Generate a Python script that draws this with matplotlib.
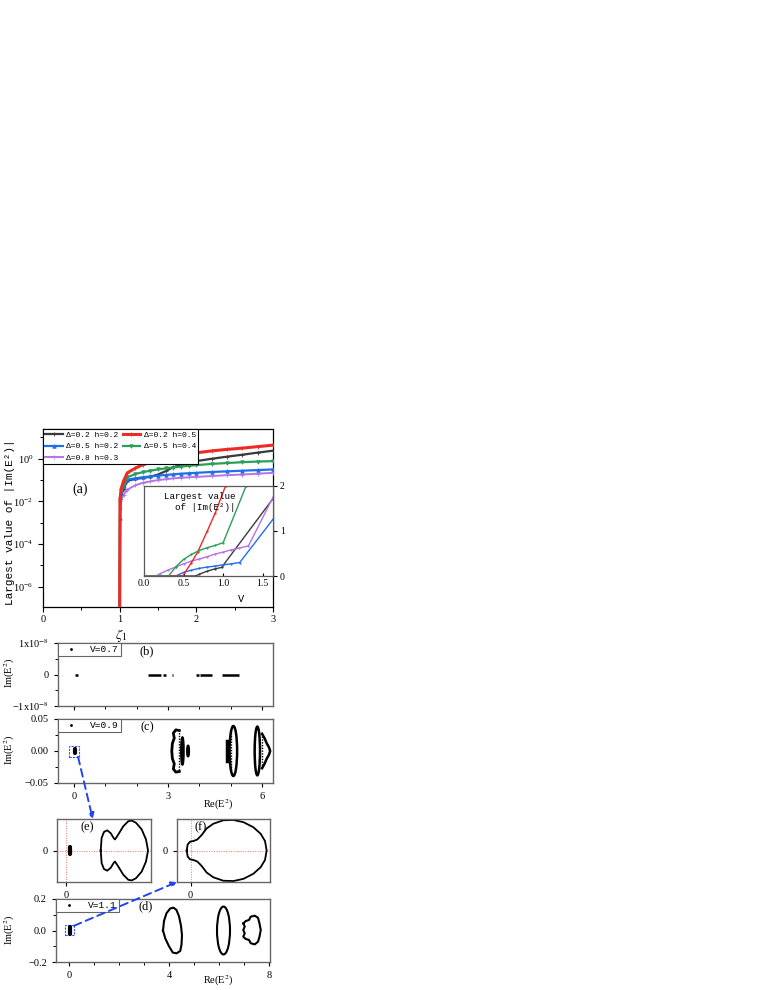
import numpy as np
import matplotlib
matplotlib.use('Agg')
import matplotlib.pyplot as plt
from matplotlib.patches import Ellipse, Rectangle, ConnectionPatch
from matplotlib.ticker import MultipleLocator, FixedLocator, NullFormatter

plt.rcParams['font.family'] = ['Liberation Serif', 'DejaVu Sans']
plt.rcParams['mathtext.fontset'] = 'stix'
plt.rcParams['xtick.direction'] = 'out'
plt.rcParams['ytick.direction'] = 'out'
plt.rcParams['xtick.labelsize'] = 7.5
plt.rcParams['ytick.labelsize'] = 7.5

MONO = ['Liberation Mono', 'DejaVu Sans Mono']

# ---------------------------------------------------------
# (a) largest |Im(E^2)| vs zeta_1  (log10 values)
# ---------------------------------------------------------
zeta = [1.0, 1.005, 1.02, 1.05, 1.1, 1.2, 1.3, 1.4, 1.5, 1.6, 1.7, 1.8, 1.9, 2.0, 2.2, 2.4, 2.6, 2.8, 3.0]
log_black = [-8, -2.0, -1.7, -1.43, -1.03, -0.95, -0.90, -0.84, -0.74, -0.58, -0.39, -0.30, -0.20, -0.11, 0.0, 0.10, 0.19, 0.29, 0.38]
log_red = [-8, -1.9, -1.4, -1.05, -0.66, -0.45, -0.28, -0.16, -0.07, 0.03, 0.12, 0.18, 0.23, 0.28, 0.37, 0.44, 0.50, 0.57, 0.64]
log_blue = [-8, -2.8, -1.6, -1.3, -0.98, -0.92, -0.87, -0.83, -0.79, -0.76, -0.73, -0.70, -0.68, -0.66, -0.62, -0.59, -0.56, -0.53, -0.50]
log_green = [-8, -1.9, -1.5, -1.2, -0.87, -0.72, -0.63, -0.56, -0.50, -0.45, -0.41, -0.37, -0.33, -0.30, -0.24, -0.20, -0.16, -0.13, -0.11]
log_purple = [-8, -2.3, -1.9, -1.7, -1.45, -1.25, -1.13, -1.06, -1.0, -0.96, -0.92, -0.89, -0.87, -0.85, -0.81, -0.77, -0.74, -0.70, -0.66]
labels_a = ['Δ=0.2 h=0.2', 'Δ=0.5 h=0.2', 'Δ=0.8 h=0.3', 'Δ=0.2 h=0.5', 'Δ=0.5 h=0.4']

# inset: largest |Im(E^2)| vs V
v_black = [0.0, 0.65, 0.70, 0.80, 0.90, 0.98, 1.63]
y_black = [0.0, 0.0, 0.04, 0.11, 0.16, 0.19, 1.72]
v_red = [0.0, 0.49, 0.60, 0.68, 0.80, 0.90, 1.03]
y_red = [0.0, 0.0, 0.30, 0.54, 1.00, 1.40, 2.00]
v_blue = [0.0, 0.40, 0.50, 0.60, 0.70, 0.80, 0.90, 1.00, 1.10, 1.21, 1.63]
y_blue = [0.0, 0.0, 0.08, 0.13, 0.17, 0.20, 0.22, 0.25, 0.27, 0.30, 1.26]
v_green = [0.0, 0.31, 0.40, 0.50, 0.60, 0.70, 0.80, 0.90, 1.00, 1.29]
y_green = [0.0, 0.0, 0.20, 0.37, 0.48, 0.57, 0.63, 0.68, 0.74, 2.00]
v_purple = [0.0, 0.15, 0.20, 0.30, 0.40, 0.50, 0.60, 0.70, 0.80, 0.90, 1.00, 1.10, 1.20, 1.32, 1.63]
y_purple = [0.0, 0.0, 0.05, 0.13, 0.20, 0.27, 0.33, 0.38, 0.43, 0.49, 0.53, 0.58, 0.62, 0.67, 1.75]

# (b) V=0.7: spectrum on the real axis (segments)
b_seg_start = [0.02, 2.37, 2.83, 3.12, 3.88, 4.02, 4.72]
b_seg_end = [0.12, 2.78, 2.92, 3.16, 3.98, 4.40, 5.28]

# (c) V=0.9 loops
c_blob_re = 0.02
c_blob_im = [-0.003, 0.003]
c_arc_re = [3.36, 3.25, 3.17, 3.20, 3.14, 3.12, 3.14, 3.20, 3.17, 3.25, 3.36]
c_arc_im = [0.032, 0.033, 0.028, 0.020, 0.012, 0.0, -0.012, -0.020, -0.028, -0.033, -0.032]
c_ell_re = [3.46, 3.64, 5.085, 5.85]
c_ell_hw = [0.035, 0.025, 0.12, 0.085]
c_ell_hh = [0.021, 0.008, 0.039, 0.038]
c_bar_re = [4.87]
c_bar_hh = [0.016]
c_dots_re = [3.36, 5.02, 6.0]
c_dots_hh = [0.030, 0.034, 0.026]
c_tip_re = [6.0, 6.08, 6.15, 6.22, 6.26, 6.22, 6.15, 6.08, 6.0]
c_tip_im = [0.027, 0.020, 0.012, 0.006, 0.0, -0.006, -0.012, -0.020, -0.027]

# (d) V=1.1 loops
d_blob_re = 0.05
d_blob_im = [-0.02, 0.02]
d1_re = [3.76, 3.80, 3.90, 4.05, 4.18, 4.30, 4.40, 4.48, 4.52, 4.50, 4.45, 4.30, 4.15, 4.00, 3.85, 3.76]
d1_im = [0.0, 0.06, 0.11, 0.14, 0.145, 0.13, 0.09, 0.03, -0.03, -0.09, -0.13, -0.145, -0.14, -0.10, -0.05, 0.0]
d2_center = (6.18, 0.0)
d2_hw, d2_hh = 0.26, 0.152
d3_re = [6.97, 7.07, 7.20, 7.27, 7.43, 7.56, 7.62, 7.67, 7.62, 7.56, 7.43, 7.27, 7.20, 7.07, 6.97, 7.03, 6.97, 7.03, 6.97]
d3_im = [0.045, 0.060, 0.067, 0.088, 0.094, 0.081, 0.045, 0.003, -0.039, -0.071, -0.088, -0.081, -0.060, -0.054, -0.039, -0.018, 0.003, 0.025, 0.045]

# (e), (f) zooms: upper halves (spectrum is symmetric about Im=0)
e_re = [0.406, 0.417, 0.445, 0.484, 0.524, 0.563, 0.575, 0.614, 0.673, 0.732, 0.772, 0.823, 0.890, 0.941, 0.965]
e_im = [0.0, 0.40, 0.59, 0.64, 0.55, 0.38, 0.35, 0.51, 0.77, 0.93, 0.95, 0.88, 0.67, 0.35, 0.0]
e_blob_re = 0.04
e_blob_im = [-0.12, 0.12]
f_re = [-0.048, -0.036, -0.006, 0.036, 0.086, 0.140, 0.203, 0.287, 0.413, 0.539, 0.665, 0.790, 0.883, 0.937, 0.958]
f_im = [0.0, 0.19, 0.28, 0.30, 0.35, 0.49, 0.70, 0.85, 0.96, 0.97, 0.90, 0.74, 0.53, 0.30, 0.0]

# ---------------------------------------------------------
# Figure
# ---------------------------------------------------------
W, H = 765, 990
fig = plt.figure(figsize=(W / 100, H / 100), dpi=100)


def px_axes(l, t, r, b):
    return fig.add_axes([l / W, 1 - b / H, (r - l) / W, (b - t) / H])


def frame(ax, color='0.4', lw=1.0):
    for s in ax.spines.values():
        s.set_color(color)
        s.set_linewidth(lw)


ax_a = px_axes(43, 429, 273, 607)
ax_in = px_axes(144, 486, 273, 576)
ax_b = px_axes(58, 643, 273, 706)
ax_c = px_axes(58, 719, 273, 783)
ax_e = px_axes(57, 819, 151, 882)
ax_f = px_axes(177, 819, 270, 882)
ax_d = px_axes(56, 899, 270, 962)

# ---- (a)
colors = ['#3a3a3a', '#1f6fe8', '#b672e8', '#ee2a24', '#2a9e5a']
logs = [log_black, log_blue, log_purple, log_red, log_green]
marks = ['+', '^', '+', '+', 'v']
lws = [1.6, 1.6, 1.4, 2.2, 1.6]
order_z = [3, 4, 3, 5, 4]
for lg, c, m, lw, lab, z in zip(logs, colors, marks, lws, labels_a, order_z):
    ax_a.plot(zeta, 10.0 ** np.array(lg), color=c, lw=lw, marker=m, ms=2.5,
              mew=0.6, label=lab, zorder=z)
ax_a.set_yscale('log')
ax_a.set_xlim(0, 3)
ax_a.set_ylim(1.1e-7, 25)
ax_a.set_xticks([0, 1, 2, 3])
ax_a.xaxis.set_minor_locator(MultipleLocator(0.5))
ax_a.set_yticks([1e-6, 1e-4, 1e-2, 1e0])
ax_a.yaxis.set_minor_locator(FixedLocator([1e-7, 1e-5, 1e-3, 1e-1, 1e1]))
ax_a.yaxis.set_minor_formatter(NullFormatter())
ax_a.tick_params(which='major', length=3.5, width=0.8)
ax_a.tick_params(axis='x', pad=2)
ax_a.tick_params(which='minor', length=2.5, width=0.7)
frame(ax_a, 'black', 0.9)
leg = ax_a.legend(ncol=2, loc='upper left', borderaxespad=0, fancybox=False,
                  edgecolor='black', framealpha=1, prop={'family': MONO, 'size': 5.8},
                  handlelength=2.2, columnspacing=0.5, labelspacing=0.45,
                  borderpad=0.3, handletextpad=0.4)
leg.get_frame().set_linewidth(0.8)
ax_a.text(0.16, 0.66, '(a)', transform=ax_a.transAxes, fontsize=10,
          ha='center', va='center')

# ---- inset
ax_in.set_facecolor('white')
ax_in.set_zorder(6)
for vx, vy, c in zip([v_black, v_blue, v_purple, v_red, v_green],
                     [y_black, y_blue, y_purple, y_red, y_green], colors):
    ax_in.plot(vx, vy, color=c, lw=1.0, marker='.', ms=1.2)
ax_in.set_xlim(0, 1.63)
ax_in.set_ylim(0, 2)
ax_in.set_xticks([0.0, 0.5, 1.0, 1.5])
ax_in.set_xticklabels(['0.0', '0.5', '1.0', '1.5'])
ax_in.set_yticks([0, 1, 2])
ax_in.yaxis.tick_right()
ax_in.tick_params(axis='x', direction='in', length=2, labelsize=7, pad=2)
ax_in.tick_params(axis='y', direction='out', length=3, labelsize=7, pad=2)
frame(ax_in, '0.35', 0.9)
ax_in.text(0.43, 0.93, 'Largest value\n  of |Im(E²)|', transform=ax_in.transAxes,
           fontsize=6.6, family=MONO, ha='center', va='top', linespacing=1.25)
ax_in.set_xlabel('V', fontsize=7.5, family=MONO, labelpad=1)
ax_in.xaxis.set_label_coords(0.75, -0.2)

# ---- (b)
ax_b.hlines([0.0] * len(b_seg_start), b_seg_start, b_seg_end, color='black', lw=1.8)
ax_b.plot([], [], ls='none', marker='.', ms=2, color='black', label='V=0.7')
ax_b.set_xlim(-0.51, 6.35)
ax_b.set_ylim(-1e-8, 1e-8)
ax_b.set_yticks([-1e-8, 0, 1e-8])
ax_b.set_yticklabels(['−1x10$^{-8}$', '0', '1x10$^{-8}$'])
ax_b.yaxis.set_minor_locator(FixedLocator([-0.5e-8, 0.5e-8]))

# ---- (c)
ax_c.plot([c_blob_re, c_blob_re], c_blob_im, color='black', lw=3, solid_capstyle='round')
ax_c.plot(c_arc_re, c_arc_im, color='black', lw=2)
for xr, hw, hh in zip(c_ell_re, c_ell_hw, c_ell_hh):
    ax_c.add_patch(Ellipse((xr, 0), 2 * hw, 2 * hh, fill=False, ec='black', lw=1.8))
for xr, hh in zip(c_bar_re, c_bar_hh):
    ax_c.plot([xr, xr], [-hh, hh], color='black', lw=2.5)
for xr, hh in zip(c_dots_re, c_dots_hh):
    ax_c.plot([xr, xr], [-hh, hh], color='black', lw=1.0, ls=(0, (1, 1)))
ax_c.plot(c_tip_re, c_tip_im, color='black', lw=1.8)
ax_c.add_patch(Rectangle((-0.15, -0.009), 0.32, 0.0168, fill=False, ec='#3355ff',
                         lw=0.8, ls=(0, (2, 1))))
ax_c.plot([], [], ls='none', marker='.', ms=2, color='black', label='V=0.9')
ax_c.set_xlim(-0.51, 6.35)
ax_c.set_ylim(-0.05, 0.05)
ax_c.set_yticks([-0.05, 0.0, 0.05])
ax_c.set_yticklabels(['−0.05', '0.00', '0.05'])
ax_c.yaxis.set_minor_locator(FixedLocator([-0.025, 0.025]))

for ax in [ax_b, ax_c]:
    ax.set_xticks([0, 3, 6])
    ax.xaxis.set_minor_locator(MultipleLocator(1))
ax_b.tick_params(axis='x', labelbottom=False)

# ---- (d)
ax_d.plot([d_blob_re, d_blob_re], d_blob_im, color='black', lw=3, solid_capstyle='round')
ax_d.plot(d1_re, d1_im, color='black', lw=1.5)
ax_d.add_patch(Ellipse(d2_center, 2 * d2_hw, 2 * d2_hh, fill=False, ec='black', lw=1.5))
ax_d.plot(d3_re, d3_im, color='black', lw=1.5)
ax_d.add_patch(Rectangle((-0.16, -0.03), 0.36, 0.065, fill=False, ec='#3355ff',
                         lw=0.8, ls=(0, (2, 1))))
ax_d.plot([], [], ls='none', marker='.', ms=2, color='black', label='V=1.1')
ax_d.set_xlim(-0.52, 8.04)
ax_d.set_ylim(-0.2, 0.2)
ax_d.set_xticks([0, 4, 8])
ax_d.xaxis.set_minor_locator(MultipleLocator(1))
ax_d.set_yticks([-0.2, 0.0, 0.2])
ax_d.set_yticklabels(['−0.2', '0.0', '0.2'])
ax_d.yaxis.set_minor_locator(FixedLocator([-0.1, 0.1]))

for ax, lab, pos in [(ax_b, '(b)', (0.414, 0.87)), (ax_c, '(c)', (0.414, 0.875)),
                     (ax_d, '(d)', (0.42, 0.89))]:
    frame(ax)
    ax.tick_params(which='major', length=3, width=0.8)
    ax.tick_params(which='minor', length=2, width=0.7)
    lg = ax.legend(loc='upper left', borderaxespad=0, fancybox=False, edgecolor='0.4',
                   framealpha=1, prop={'family': MONO, 'size': 6.8}, handlelength=2.4,
                   borderpad=0.2, handletextpad=0.8)
    lg.get_frame().set_linewidth(0.8)
    ax.text(pos[0], pos[1], lab, transform=ax.transAxes, fontsize=9,
            ha='center', va='center')

# ---- (e), (f)
e_x = e_re + e_re[::-1]
e_y = e_im + [-v for v in e_im[::-1]]
ax_e.plot(e_x, e_y, color='black', lw=1.3)
ax_e.plot([e_blob_re, e_blob_re], e_blob_im, color='black', lw=3, solid_capstyle='round')
ax_e.set_xlim(-0.11, 1.0)
ax_e.set_ylim(-1, 1)

f_x = f_re + f_re[::-1]
f_y = f_im + [-v for v in f_im[::-1]]
ax_f.plot(f_x, f_y, color='black', lw=1.3)
ax_f.set_xlim(-0.17, 1.0)
ax_f.set_ylim(-1, 1)

for ax, lab, pos in [(ax_e, '(e)', (0.32, 0.87)), (ax_f, '(f)', (0.25, 0.87))]:
    ax.axvline(0, color='#ff7070', lw=0.7, ls=(0, (1, 1.5)), zorder=0)
    ax.axhline(0, color='#ff7070', lw=0.7, ls=(0, (1, 1.5)), zorder=0)
    ax.set_xticks([0])
    ax.set_yticks([0])
    ax.tick_params(length=3, width=0.8)
    frame(ax)
    ax.text(pos[0], pos[1], lab, transform=ax.transAxes, fontsize=9,
            ha='center', va='center')

# ---- connecting arrows
for xyA, axA, xyB, axB in [((0.13, -0.009), ax_c, (0.38, 1.0), ax_e),
                           ((0.2, 0.03), ax_d, (0.0, 0.0), ax_f)]:
    con = ConnectionPatch(xyA=xyA, coordsA=axA.transData, xyB=xyB,
                          coordsB=axB.transAxes, arrowstyle='-|>',
                          color='#2244ee', lw=1.4, ls=(0, (4, 2.5)),
                          mutation_scale=8)
    fig.add_artist(con)

# ---- axis labels
fig.text(10 / W, 1 - 522 / H, 'Largest value of |Im(E²)|', rotation=90,
         ha='center', va='center', fontsize=8, family=MONO)
fig.text(121 / W, 1 - 635 / H, r'$\zeta_1$', ha='center', va='center', fontsize=10)
for yc in [673, 750, 930]:
    fig.text(10 / W, 1 - yc / H, 'Im(E$^2$)', rotation=90, ha='center',
             va='center', fontsize=7.5)
for yc in [805, 981]:
    fig.text(218 / W, 1 - yc / H, 'Re(E$^2$)', ha='center', va='center', fontsize=7.5)

fig.savefig('out.png', dpi=100)
